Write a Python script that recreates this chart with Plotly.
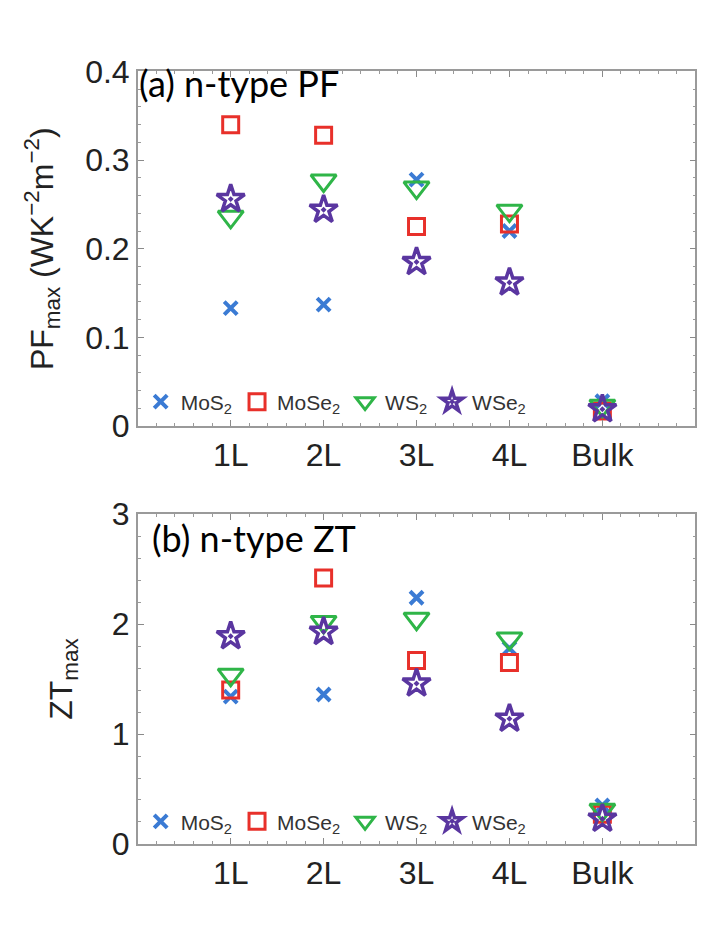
import plotly.graph_objects as go

categories = ["1L", "2L", "3L", "4L", "Bulk"]
materials = ["MoS<sub>2</sub>", "MoSe<sub>2</sub>", "WS<sub>2</sub>", "WSe<sub>2</sub>"]

pf_mos2 = [0.133, 0.137, 0.278, 0.220, 0.028]
pf_mose2 = [0.340, 0.328, 0.225, 0.228, 0.017]
pf_ws2 = [0.236, 0.277, 0.269, 0.243, 0.023]
pf_wse2 = [0.256, 0.244, 0.185, 0.162, 0.019]

zt_mos2 = [1.34, 1.36, 2.24, 1.78, 0.35]
zt_mose2 = [1.40, 2.42, 1.67, 1.65, 0.27]
zt_ws2 = [1.54, 2.02, 2.05, 1.87, 0.31]
zt_wse2 = [1.89, 1.93, 1.46, 1.14, 0.23]

pf_ticks = [0, 0.1, 0.2, 0.3, 0.4]
zt_ticks = [0, 1, 2, 3]

colors = ["#3b7bd4", "#e8302a", "#2fb548", "#5a36a0"]
symbols = ["x-thin-open", "square-open", "triangle-down-open", "star-open-dot"]
sizes = [13, 16, 22, 21]
widths = [4, 3, 3, 3.5]

xpos = list(range(1, len(categories) + 1))

fig = go.Figure()

pf_series = [pf_mos2, pf_mose2, pf_ws2, pf_wse2]
zt_series = [zt_mos2, zt_mose2, zt_ws2, zt_wse2]

for i, name in enumerate(materials):
    fig.add_trace(go.Scatter(
        x=xpos, y=pf_series[i], mode="markers", name=name,
        marker=dict(symbol=symbols[i], size=sizes[i], color=colors[i],
                    line=dict(width=widths[i], color=colors[i])),
        xaxis="x", yaxis="y", legend="legend"))
for i, name in enumerate(materials):
    fig.add_trace(go.Scatter(
        x=xpos, y=zt_series[i], mode="markers", name=name,
        marker=dict(symbol=symbols[i], size=sizes[i], color=colors[i],
                    line=dict(width=widths[i], color=colors[i])),
        xaxis="x2", yaxis="y2", legend="legend2"))

axis_common = dict(
    showline=True, linecolor="#9a9a9a", linewidth=1.5, mirror="allticks",
    ticks="inside", ticklen=6, tickwidth=1.2, tickcolor="#8a8a8a",
    showgrid=False, zeroline=False,
    tickfont=dict(family="Liberation Sans Narrow, Liberation Sans", size=32, color="#222"),
)

xdom = [0.179, 0.948]
title_font = dict(family="Liberation Sans Narrow, Liberation Sans", size=32, color="#222")

fig.update_layout(
    width=725, height=927,
    margin=dict(l=0, r=0, t=0, b=0),
    paper_bgcolor="white", plot_bgcolor="white",
    xaxis=dict(domain=xdom, range=[0, 6], tickvals=xpos, ticktext=categories,
               anchor="y", minor=dict(dtick=0.2, ticks="inside", ticklen=3, tickcolor="#9a9a9a"),
               **axis_common),
    yaxis=dict(domain=[0.551, 0.949], range=[0, 0.4], tickvals=pf_ticks, anchor="x",
               minor=dict(dtick=0.02, ticks="inside", ticklen=3, tickcolor="#9a9a9a"),
               title=dict(text="PF<sub>max</sub> (WK<sup>−2</sup>m<sup>−2</sup>)",
                          font=title_font, standoff=22),
               **axis_common),
    xaxis2=dict(domain=xdom, range=[0, 6], tickvals=xpos, ticktext=categories,
                anchor="y2", minor=dict(dtick=0.2, ticks="inside", ticklen=3, tickcolor="#9a9a9a"),
                **axis_common),
    yaxis2=dict(domain=[0.082, 0.452], range=[0, 3], tickvals=zt_ticks, anchor="x2",
                minor=dict(dtick=0.2, ticks="inside", ticklen=3, tickcolor="#9a9a9a"),
                title=dict(text="ZT<sub>max</sub>", font=title_font, standoff=30),
                **axis_common),
    legend=dict(orientation="h", x=0.183, y=0.578, xanchor="left", yanchor="middle",
                bgcolor="rgba(0,0,0,0)",
                font=dict(family="Liberation Sans Narrow, Liberation Sans", size=21, color="#333"),
                itemwidth=30, tracegroupgap=0),
    legend2=dict(orientation="h", x=0.183, y=0.107, xanchor="left", yanchor="middle",
                 bgcolor="rgba(0,0,0,0)",
                 font=dict(family="Liberation Sans Narrow, Liberation Sans", size=21, color="#333"),
                 itemwidth=30, tracegroupgap=0),
    annotations=[
        dict(text="(a) n-type PF", xref="paper", yref="paper", x=0.178, y=0.963,
             xanchor="left", yanchor="top", showarrow=False,
             font=dict(family="Lato", size=36, color="black")),
        dict(text="(b) n-type ZT", xref="paper", yref="paper", x=0.196, y=0.452,
             xanchor="left", yanchor="top", showarrow=False,
             font=dict(family="Lato", size=36, color="black")),
    ],
)

fig.write_html("out.html")
